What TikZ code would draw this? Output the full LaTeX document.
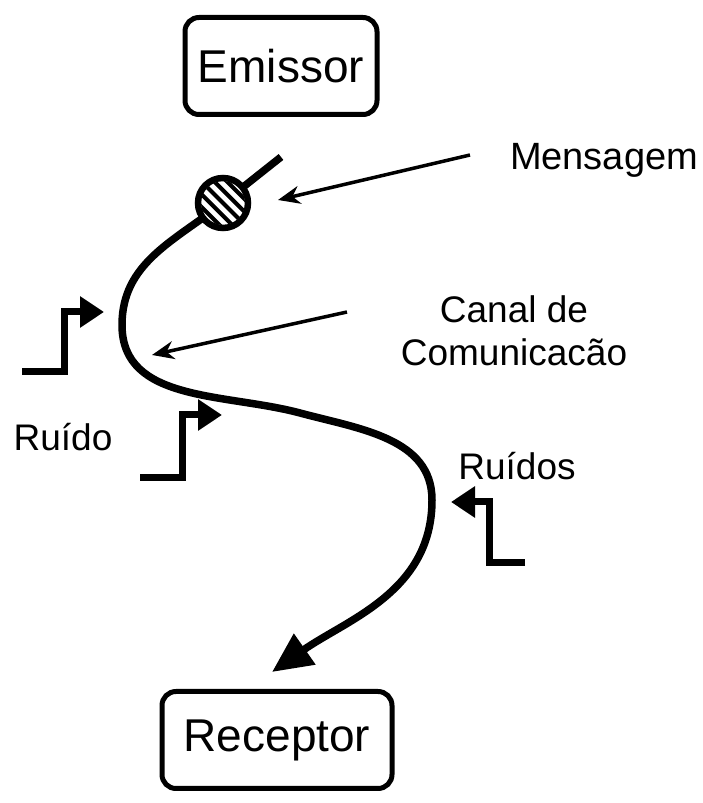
\documentclass[tikz,border=0pt]{standalone}
\usepackage{fontspec}
\setmainfont{Liberation Sans}
\usetikzlibrary{arrows.meta}

\tikzset{
  box/.style={draw, rounded corners=14pt, line width=5pt, minimum height=97pt,
    font=\fontsize{46}{50}\selectfont},
  txt/.style={font=\fontsize{37}{43}\selectfont, align=center},
  channel/.style={line width=7.5pt, -{Triangle[length=40pt,width=36pt]}},
  noise/.style={line width=7pt, -{Triangle[length=24pt,width=30pt]}},
  pointer/.style={line width=3.5pt, -{Stealth[length=22pt,width=18pt]}}
}

\begin{document}
\begin{tikzpicture}[x=1pt,y=1pt]
        \useasboundingbox (0,0) rectangle (703,803);

        % Emissor and Receptor
        \node[box, minimum width=192pt] (emissor) at (281,737) {Emissor};
        \node[box, minimum width=230pt] (receptor) at (277,63) {Receptor};

        % Canal
        \coordinate (start) at (281,646);
        \coordinate (left) at (122,478);
        \coordinate (mid) at (300,390);
        \coordinate (right) at (432,303);
        \coordinate (tip) at (272,131);
        \draw[channel] (start) -- (223,600) to[out=218,in=90] (left)
            to[out=-90,in=165] (mid) to[out=-15,in=90] (right)
            to[out=-90,in=35] (tip);

        % Mensagem
        \node[circle, fill=white, minimum size=50pt] (msg) at (223,600) {};
        \begin{scope}
          \clip (msg.center) circle (22);
          \foreach \k in {-27,-18,...,27}
            \draw[line width=4pt] (223+\k/1.414-30,600+\k/1.414+30) -- ++(60,-60);
        \end{scope}
        \draw[line width=6.5pt] (msg.center) circle (25);

        % Labels
        \node[txt, font=\fontsize{38}{43}\selectfont] (mensagem) at (604,643) {Mensagem};
        \node[txt] (canal) at (514,472) {Canal de\\Comunicacão};
        \node[txt] (ruido) at (63,366) {Ruído};
        \node[txt] (ruidos) at (517,337) {Ruídos};

        \coordinate (msgend) at (278,603);
        \coordinate (canalend) at (152,448);
        \draw[pointer] (470,648) -- (msgend);
        \draw[pointer] (347,491) -- (canalend);

        % Ruido
        \draw[noise] (22,431) -- (64,431) -- (64,491) -- (104,491);
        \draw[noise] (140,325) -- (182,325) -- (182,388) -- (222,388);
        \draw[noise] (525,240) -- (489,240) -- (489,301) -- (451,301);
\end{tikzpicture}
\end{document}
